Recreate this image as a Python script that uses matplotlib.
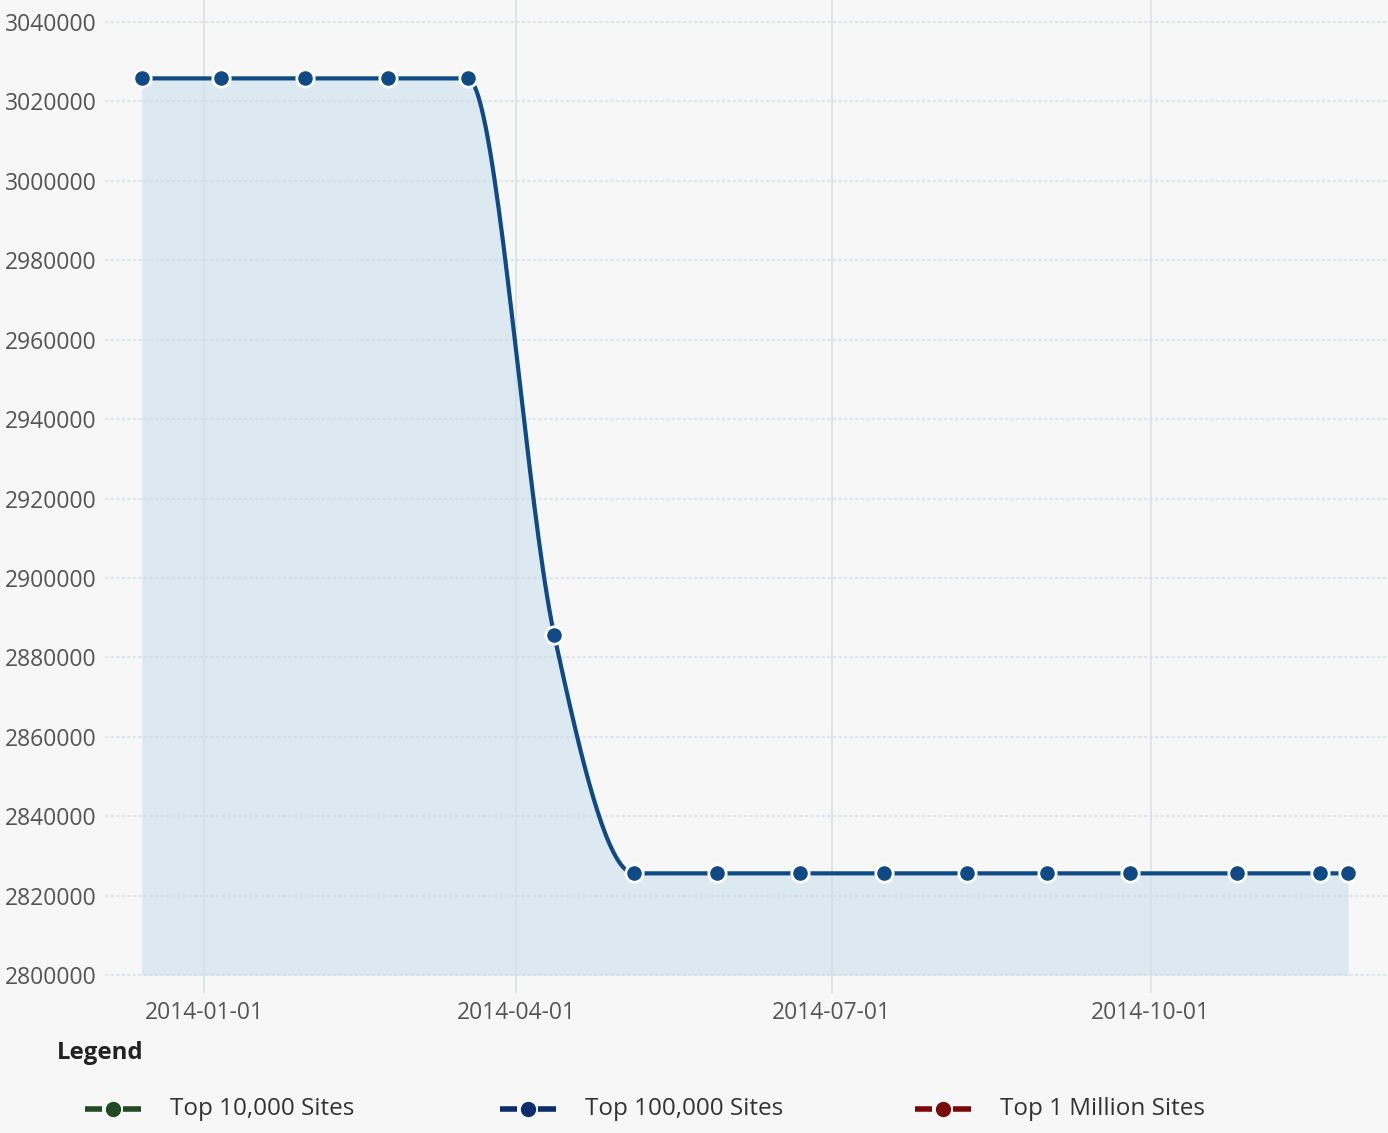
"""
Top 100,000 sites count over 2014, drawn as a smoothed area line with a custom legend.
"""

import numpy as np
import pandas as pd
import matplotlib
matplotlib.use('Agg')
from matplotlib import pyplot as plt
from matplotlib import dates as mdates
from matplotlib.lines import Line2D

# data
dates = ['2013-12-14', '2014-01-06', '2014-01-30', '2014-02-23', '2014-03-18',
         '2014-04-12', '2014-05-05', '2014-05-29', '2014-06-22', '2014-07-16',
         '2014-08-09', '2014-09-01', '2014-09-25', '2014-10-26', '2014-11-19',
         '2014-11-27']
values = [3025800, 3025800, 3025800, 3025800, 3025800,
          2885600, 2825600, 2825600, 2825600, 2825600,
          2825600, 2825600, 2825600, 2825600, 2825600,
          2825600]
x_ticks = ['2014-01-01', '2014-04-01', '2014-07-01', '2014-10-01']
y_ticks = list(range(2800000, 3040001, 20000))
legend_labels = ['Top 10,000 Sites', 'Top 100,000 Sites', 'Top 1 Million Sites']
legend_colors = ['#1f4a22', '#0b2d6b', '#7a0a0a']

BG = '#f7f7f7'
LINE = '#0f4a85'
FILL = '#dce9f1'


def monotone_x(x, y, n=40):
    # d3-style monotone cubic curve between the data points (line shape only)
    x = np.asarray(x, float)
    y = np.asarray(y, float)
    h = np.diff(x)
    s = np.diff(y) / h
    t = np.zeros(len(x))
    for i in range(1, len(x) - 1):
        p = (s[i - 1] * h[i] + s[i] * h[i - 1]) / (h[i - 1] + h[i])
        t[i] = (np.sign(s[i - 1]) + np.sign(s[i])) * min(abs(s[i - 1]), abs(s[i]), 0.5 * abs(p))
    t[0] = (3 * s[0] - t[1]) / 2 if len(x) > 2 else s[0]
    t[-1] = (3 * s[-1] - t[-2]) / 2 if len(x) > 2 else s[-1]
    xs, ys = [], []
    for i in range(len(x) - 1):
        u = np.linspace(0, 1, n)
        dx = h[i]
        p0, p3 = np.array([x[i], y[i]]), np.array([x[i + 1], y[i + 1]])
        p1 = np.array([x[i] + dx / 3, y[i] + t[i] * dx / 3])
        p2 = np.array([x[i + 1] - dx / 3, y[i + 1] - t[i + 1] * dx / 3])
        b = ((1 - u) ** 3)[:, None] * p0 + (3 * (1 - u) ** 2 * u)[:, None] * p1 \
            + (3 * (1 - u) * u ** 2)[:, None] * p2 + (u ** 3)[:, None] * p3
        xs.extend(b[:, 0])
        ys.extend(b[:, 1])
    return np.array(xs), np.array(ys)


plt.rcParams['font.family'] = ['Open Sans', 'DejaVu Sans']

fig = plt.figure(figsize=(13.88, 11.33), dpi=100, facecolor=BG)
ax = fig.add_axes([105 / 1388, 140 / 1133, 1 - 105 / 1388, 1 - 140 / 1133])
ax.set_facecolor(BG)

xd = mdates.date2num(pd.to_datetime(dates))
cx, cy = monotone_x(xd, values)

ax.fill_between(cx, cy, 2800000, color=FILL, lw=0, zorder=1)
ax.plot(cx, cy, color=LINE, lw=3, solid_capstyle='butt', zorder=3)
ax.plot(xd, values, ls='none', marker='o', ms=12.5, mfc=LINE, mec='white', mew=2, zorder=4)

# grid
for yt in y_ticks:
    ax.axhline(yt, color='#c9d6de', lw=1.6, ls=(0, (1.5, 1)), alpha=0.5, zorder=2)
xt = mdates.date2num(pd.to_datetime(x_ticks))
for v in xt:
    ax.axvline(v, color='#d3dde3', lw=1.4, alpha=0.7, zorder=2)

ax.set_xlim(mdates.date2num(pd.Timestamp('2014-01-01')) - 28.6,
            mdates.date2num(pd.Timestamp('2014-01-01')) + 341.5)
ax.set_ylim(2795470, 3045540)
ax.set_xticks(xt)
ax.set_xticklabels(x_ticks)
ax.set_yticks(y_ticks)
ax.set_yticklabels([str(v) for v in y_ticks])
ax.tick_params(length=0, labelsize=16.5, colors='#555555', pad=6)
ax.tick_params(axis='y', pad=6)
for sp in ax.spines.values():
    sp.set_visible(False)

# legend drawn by hand below the chart
W, H = 1388, 1133
fig.text(57 / W, 1 - 1053 / H, 'Legend', fontsize=17.3, fontweight='bold', color='#222222',
         ha='left', va='center')
for i, (lab, col) in enumerate(zip(legend_labels, legend_colors)):
    x0 = 85 + i * 415
    yy = 1 - 1109 / H
    for a, b in [(x0, x0 + 17), (x0 + 38, x0 + 56)]:
        fig.add_artist(Line2D([a / W, b / W], [yy, yy], color=col, lw=4,
                              solid_capstyle='butt', transform=fig.transFigure))
    fig.add_artist(Line2D([(x0 + 27.5) / W], [yy], marker='o', ms=10, color=col,
                          transform=fig.transFigure))
    fig.text((x0 + 85) / W, yy, lab, fontsize=17.5, color='#333333', ha='left', va='center')

fig.savefig('out.png', dpi=100, facecolor=BG)
